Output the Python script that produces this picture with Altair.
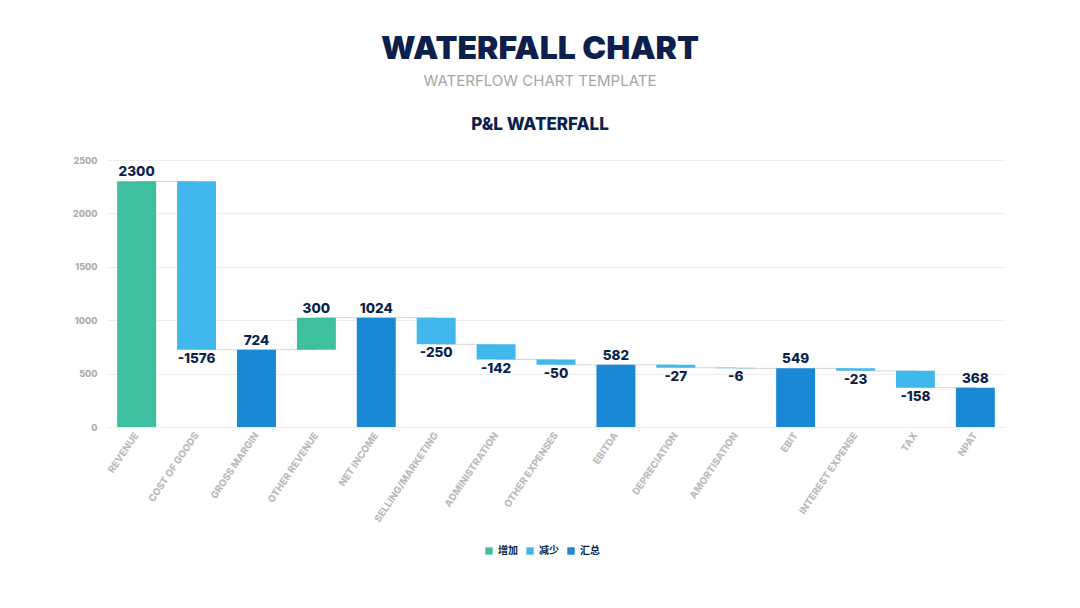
import altair as alt
import pandas as pd

categories = ["REVENUE", "COST OF GOODS", "GROSS MARGIN", "OTHER REVENUE", "NET INCOME",
              "SELLING/MARKETING", "ADMINISTRATION", "OTHER EXPENSES", "EBITDA",
              "DEPRECIATION", "AMORTISATION", "EBIT", "INTEREST EXPENSE", "TAX", "NPAT"]
values = [2300, -1576, 724, 300, 1024, -250, -142, -50, 582, -27, -6, 549, -23, -158, 368]
kinds = ["增加", "减少", "汇总", "增加", "汇总", "减少", "减少", "减少", "汇总",
         "减少", "减少", "汇总", "减少", "减少", "汇总"]

kind_order = ["增加", "减少", "汇总"]
kind_colors = ["#3dbfa0", "#40b8ec", "#1a88d6"]

rows = []
running = 0
for i, (c, v, k) in enumerate(zip(categories, values, kinds)):
    if k == "汇总":
        start, end = 0, v
        running = v
    else:
        start, end = running, running + v
        running = end
    rows.append(dict(cat=c, value=v, kind=k, start=start, end=end,
                     lo=min(start, end), hi=max(start, end),
                     nxt=categories[i + 1] if i + 1 < len(categories) else None,
                     label=str(v)))
df = pd.DataFrame(rows)

NAVY = "#0c1f4d"
FONT = "Inter"

xenc = alt.X("cat:N", sort=categories, title=None,
             scale=alt.Scale(paddingInner=0.35, paddingOuter=0.17),
             axis=alt.Axis(labelAngle=-56, labelFontSize=9.8, labelFontWeight=800,
                           labelColor="#bcbcbc", labelFont=FONT, ticks=False, domain=False,
                           labelPadding=6, labelAlign="right", labelBaseline="middle"))
yscale = alt.Scale(domain=[0, 2500])

base = alt.Chart(df)

bars = base.mark_bar().encode(
    x=xenc,
    y=alt.Y("lo:Q", scale=yscale, title=None,
            axis=alt.Axis(values=[0, 500, 1000, 1500, 2000, 2500], format="d", labelFontSize=9,
                          labelFontWeight=800, labelColor="#ababab", labelFont=FONT,
                          ticks=False, domain=False, gridColor="#eeeeee", labelPadding=10)),
    y2="hi:Q",
    color=alt.Color("kind:N", scale=alt.Scale(domain=kind_order, range=kind_colors),
                    legend=alt.Legend(title=None, orient="none", direction="horizontal",
                                      legendX=377, legendY=386, symbolType="square",
                                      symbolSize=55, labelFont="Noto Sans CJK SC",
                                      labelFontSize=10, labelFontWeight="bold",
                                      labelColor=NAVY, columnPadding=7)),
)

connectors = base.transform_filter("datum.nxt != null").mark_rule(
    color="#d6d6d6", strokeWidth=1).encode(
    x=alt.X("cat:N", sort=categories),
    x2="nxt:N",
    y=alt.Y("end:Q", scale=yscale),
)

up_labels = base.transform_filter("datum.kind != '减少'").mark_text(
    dy=-9, fontSize=13.5, fontWeight=800, color=NAVY, font=FONT).encode(
    x=alt.X("cat:N", sort=categories), y=alt.Y("hi:Q", scale=yscale), text="label:N")

down_labels = base.transform_filter("datum.kind == '减少'").mark_text(
    dy=9, fontSize=13.5, fontWeight=800, color=NAVY, font=FONT).encode(
    x=alt.X("cat:N", sort=categories), y=alt.Y("lo:Q", scale=yscale), text="label:N")

titles_df = pd.DataFrame({"t": ["WATERFALL CHART", "WATERFLOW CHART TEMPLATE", "P&L WATERFALL"]})
title1 = alt.Chart(titles_df).transform_filter("datum.t == 'WATERFALL CHART'").mark_text(
    fontSize=32, fontWeight=900, color=NAVY, font=FONT, align="center", baseline="middle").encode(
    text="t:N", x=alt.value(433), y=alt.value(-111))
title2 = alt.Chart(titles_df).transform_filter("datum.t == 'WATERFLOW CHART TEMPLATE'").mark_text(
    fontSize=15, color="#a6a6a6", font=FONT, align="center", baseline="middle").encode(
    text="t:N", x=alt.value(433), y=alt.value(-79))
title3 = alt.Chart(titles_df).transform_filter("datum.t == 'P&L WATERFALL'").mark_text(
    fontSize=17, fontWeight=800, color=NAVY, font=FONT, align="center", baseline="middle").encode(
    text="t:N", x=alt.value(433), y=alt.value(-35))

chart = alt.layer(connectors, bars, up_labels, down_labels, title1, title2, title3).properties(
    width=898, height=267,
    autosize=alt.AutoSizeParams(type="none"),
    padding={"left": 107, "top": 160, "right": 75, "bottom": 181},
    background="white",
).configure_view(stroke=None)

chart.save("out.html", embed_options={"renderer": "svg", "actions": False})
